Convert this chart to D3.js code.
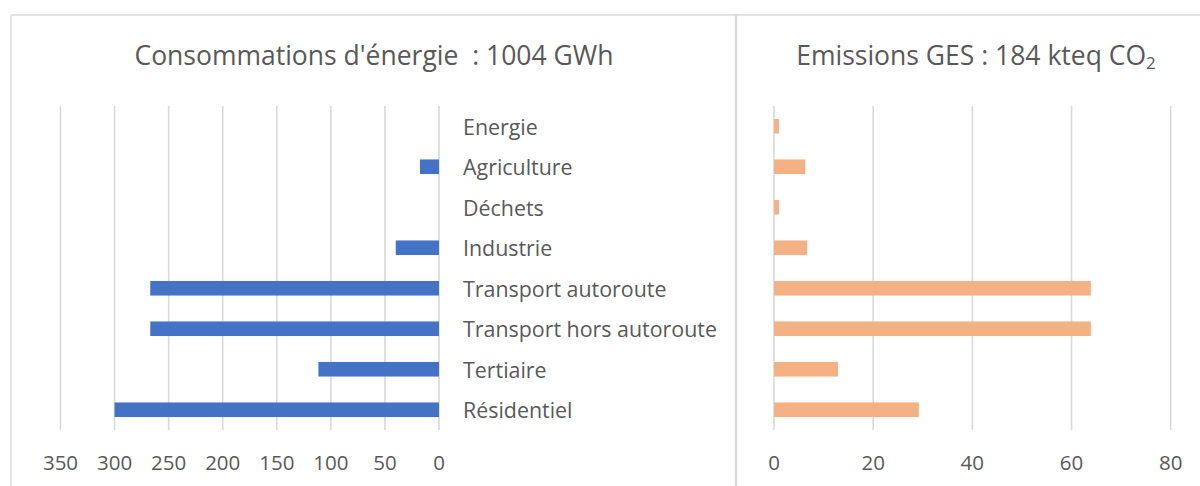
<!DOCTYPE html>
<html>
<head>
<meta charset="utf-8">
<script src="https://cdn.jsdelivr.net/npm/d3@7"></script>
<style>
  html, body { margin: 0; padding: 0; background: #fff; }
  svg { display: block; }
  text { font-family: "Open Sans", "Noto Sans", sans-serif; fill: #595959; white-space: pre; }
</style>
</head>
<body>
<svg id="chart" width="1200" height="486"></svg>
<script>
// ---- data ----
const categories = ["Energie", "Agriculture", "Déchets", "Industrie", "Transport autoroute", "Transport hors autoroute", "Tertiaire", "Résidentiel"];
const energyGWh = [0, 17.6, 0, 40, 267, 267, 111.5, 300];
const ghgKteq = [1.0, 6.3, 1.0, 6.7, 63.9, 63.9, 12.9, 29.2];
const energyTicks = [0, 50, 100, 150, 200, 250, 300, 350];
const ghgTicks = [0, 20, 40, 60, 80];
const titleEnergy = "Consommations d'énergie  : 1004 GWh";
const titleGhgMain = "Emissions GES : 184 kteq CO";
const titleGhgSub = "2";

const svg = d3.select("#chart");
const border = "#d9d9d9";
const grid = "#d9d9d9";

// frame lines
svg.append("line").attr("x1", 11).attr("x2", 1200).attr("y1", 15).attr("y2", 15)
  .attr("stroke", "#e3e3e3").attr("stroke-width", 2);
svg.append("line").attr("x1", 11).attr("x2", 11).attr("y1", 15).attr("y2", 486)
  .attr("stroke", "#e3e3e3").attr("stroke-width", 2);
svg.append("line").attr("x1", 736).attr("x2", 736).attr("y1", 15).attr("y2", 486)
  .attr("stroke", border).attr("stroke-width", 2.5);

const y = d3.scaleBand().domain(categories).range([106, 430]).paddingInner(0.64).paddingOuter(0.32);

// ---- left chart ----
const xL = d3.scaleLinear().domain([0, 350]).range([439, 60.5]);
const gL = svg.append("g");
gL.selectAll("line.grid").data(energyTicks).join("line")
  .attr("class", "grid")
  .attr("x1", d => xL(d)).attr("x2", d => xL(d))
  .attr("y1", 106).attr("y2", 430)
  .attr("stroke", grid).attr("stroke-width", 1.6);
gL.selectAll("rect").data(categories).join("rect")
  .attr("x", (d, i) => xL(energyGWh[i]))
  .attr("width", (d, i) => xL(0) - xL(energyGWh[i]))
  .attr("y", d => y(d))
  .attr("height", y.bandwidth())
  .attr("fill", "#4472C4");
gL.selectAll("text.tick").data(energyTicks).join("text")
  .attr("class", "tick")
  .attr("x", d => xL(d)).attr("y", 462)
  .attr("text-anchor", "middle").attr("dominant-baseline", "central")
  .style("font-size", "20.5px")
  .text(d => d);
gL.selectAll("text.cat").data(categories).join("text")
  .attr("class", "cat")
  .attr("x", 463).attr("y", d => y(d) + y.bandwidth() / 2)
  .attr("dominant-baseline", "central")
  .style("font-size", "21.4px")
  .text(d => d);
svg.append("text").attr("x", 374).attr("y", 55)
  .attr("text-anchor", "middle").attr("dominant-baseline", "central")
  .style("font-size", "26.5px")
  .text(titleEnergy);

// ---- right chart ----
const xR = d3.scaleLinear().domain([0, 80]).range([774, 1170.7]);
const gR = svg.append("g");
gR.selectAll("line.grid").data(ghgTicks).join("line")
  .attr("class", "grid")
  .attr("x1", d => xR(d)).attr("x2", d => xR(d))
  .attr("y1", 106).attr("y2", 430)
  .attr("stroke", grid).attr("stroke-width", 1.6);
gR.selectAll("rect").data(categories).join("rect")
  .attr("x", xR(0))
  .attr("width", (d, i) => xR(ghgKteq[i]) - xR(0))
  .attr("y", d => y(d))
  .attr("height", y.bandwidth())
  .attr("fill", "#F4B183");
gR.selectAll("text.tick").data(ghgTicks).join("text")
  .attr("class", "tick")
  .attr("x", d => xR(d)).attr("y", 462)
  .attr("text-anchor", "middle").attr("dominant-baseline", "central")
  .style("font-size", "20.5px")
  .text(d => d);
const tR = svg.append("text").attr("x", 976).attr("y", 55)
  .attr("text-anchor", "middle").attr("dominant-baseline", "central")
  .style("font-size", "26.5px");
tR.append("tspan").text(titleGhgMain);
tR.append("tspan").attr("dy", 7).style("font-size", "17px").text(titleGhgSub);
</script>
</body>
</html>
